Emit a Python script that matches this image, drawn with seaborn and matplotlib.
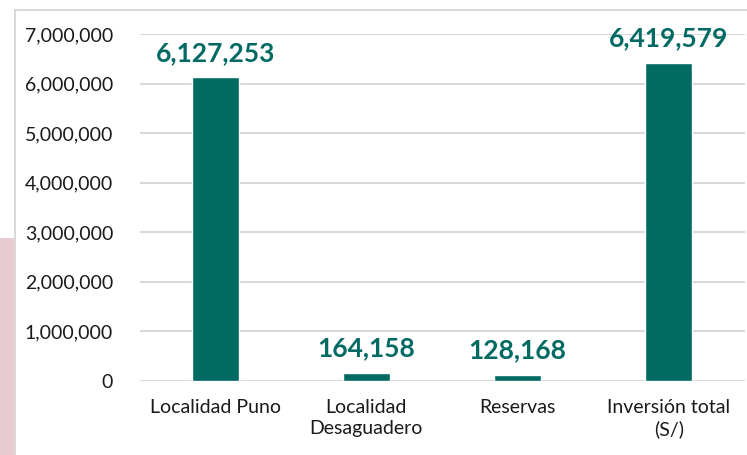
import matplotlib
matplotlib.use("Agg")
import matplotlib.pyplot as plt
import matplotlib.patches as mpatches
import seaborn as sns
import pandas as pd
from matplotlib.ticker import FuncFormatter

categories = ["Localidad Puno", "Localidad\nDesaguadero", "Reservas", "Inversión total\n(S/)"]
values = [6127253, 164158, 128168, 6419579]
yticks = [0, 1000000, 2000000, 3000000, 4000000, 5000000, 6000000, 7000000]

sns.set_theme(style="white")
plt.rcParams['font.family'] = ['Lato', 'DejaVu Sans']

color = "#006A63"
df = pd.DataFrame({"cat": categories, "val": values})

fig = plt.figure(figsize=(7.47, 4.55), dpi=100)
# background decorations
fig.patches.append(mpatches.Rectangle((0, 0), 15/747, 1-238/455, transform=fig.transFigure,
                                      facecolor="#E8CBD0", edgecolor="none", zorder=-2))
fig.patches.append(mpatches.Rectangle((15/747, -0.1), 1.2, 1-10/455+0.1, transform=fig.transFigure,
                                      facecolor="white", edgecolor="#D9D9D9", linewidth=1.5, zorder=-1))

ax = fig.add_axes([139.5/747, 1-381/455, 605/747, (381-34)/455])
ax.set_zorder(1)
ax.set_facecolor("none")
sns.barplot(data=df, x="cat", y="val", color=color, width=0.31, ax=ax, saturation=1)
ax.set_ylim(0, 7000000)
ax.set_yticks(yticks)
ax.yaxis.set_major_formatter(FuncFormatter(lambda v, p: f"{int(v):,}"))
ax.grid(axis="y", color="#D9D9D9", linewidth=1.5)
ax.set_axisbelow(True)
for s in ax.spines.values():
    s.set_visible(False)
ax.set_xlabel("")
ax.set_ylabel("")
ax.tick_params(axis="y", labelsize=14, pad=19, length=0, labelcolor="#1a1a1a")
ax.tick_params(axis="x", labelsize=14, pad=13, length=0, labelcolor="#1a1a1a")
for lbl in ax.get_xticklabels():
    lbl.set_linespacing(1.3)
for i, v in enumerate(values):
    ax.annotate(f"{v:,}", (i, v), xytext=(0, 9), textcoords="offset points",
                ha="center", va="bottom", fontsize=19, fontweight="bold", color=color)
fig.savefig("out.png", dpi=100)
